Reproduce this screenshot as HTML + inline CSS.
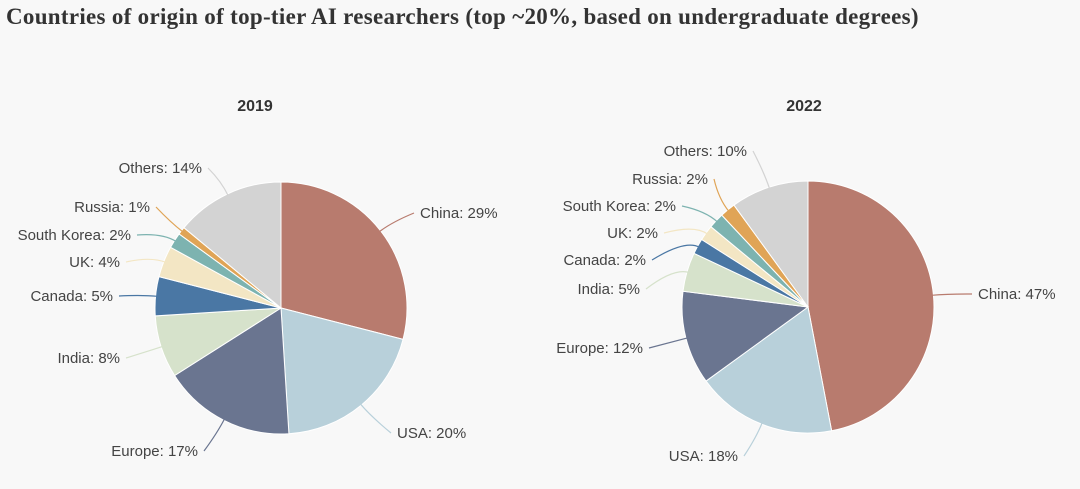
<!DOCTYPE html>
<html><head><meta charset="utf-8">
<style>
html,body{margin:0;padding:0;background:#f8f8f8;}
#wrap{position:relative;width:1080px;height:489px;overflow:hidden;}
#title{position:absolute;left:6px;top:4px;font-family:"Liberation Serif",serif;font-weight:bold;font-size:23px;letter-spacing:0.3px;color:#333;white-space:nowrap;}
svg text{font-family:"Liberation Sans",sans-serif;}
</style></head><body>
<div id="wrap">
<div id="title">Countries of origin of top-tier AI researchers (top ~20%, based on undergraduate degrees)</div>
<svg id="svg" width="1080" height="489" style="position:absolute;left:0;top:0"></svg>
</div>
<script>
const categories = ["China","USA","Europe","India","Canada","UK","South Korea","Russia","Others"];
const values2019 = [29,20,17,8,5,4,2,1,14];
const values2022 = [47,18,12,5,2,2,2,2,10];
const colors = ["#b87b6e","#b8d0da","#6a7590","#d6e2cb","#4a77a4","#f3e6c4","#7db3b0","#e0a456","#d3d3d3"];
// label layout: [x, y, anchor]
const layout2019 = [[420,218,"start"],[397,438,"start"],[198,456,"end"],[120,363,"end"],[113,301,"end"],[120,267,"end"],[131,240,"end"],[150,212,"end"],[202,173,"end"]];
const layout2022 = [[978,299,"start"],[738,461,"end"],[643,353,"end"],[640,294,"end"],[646,265,"end"],[658,238,"end"],[676,211,"end"],[708,184,"end"],[747,156,"end"]];
const svg=document.getElementById('svg');
const NS="http://www.w3.org/2000/svg";
function mk(t,a){const e=document.createElementNS(NS,t);for(const k in a)e.setAttribute(k,a[k]);svg.appendChild(e);return e;}
function pie(vals,cx,cy,r,year,lay,titleX){
  const t=mk('text',{x:titleX,y:111,'text-anchor':'middle','font-size':'16','font-weight':'bold',fill:'#333'});
  
  
  t.textContent=year;
  const total=vals.reduce((a,b)=>a+b,0);
  let a0=0;
  vals.forEach((v,i)=>{
    const a1=a0+v/total*2*Math.PI;
    const p=a=>[cx+r*Math.sin(a),cy-r*Math.cos(a)];
    const [x0,y0]=p(a0),[x1,y1]=p(a1);
    const path=mk('path',{d:`M${cx},${cy}L${x0},${y0}A${r},${r} 0 ${a1-a0>Math.PI?1:0} 1 ${x1},${y1}Z`,fill:colors[i],stroke:'#fff','stroke-width':'1'});
    
    
    const am=(a0+a1)/2;
    const sx=cx+(r-2)*Math.sin(am),sy=cy-(r-2)*Math.cos(am);
    const mx=cx+(r+14)*Math.sin(am),my=cy-(r+14)*Math.cos(am);
    const [lx,ly,anc]=lay[i];
    const ex=anc==="start"?lx-6:lx+6, ey=ly-5;
    const ln=mk('path',{d:`M${sx},${sy}Q${mx},${my} ${ex},${ey}`,fill:'none',stroke:colors[i],'stroke-width':'1.2'});
    
    
    const lb=mk('text',{x:lx,y:ly,'text-anchor':anc,'font-size':'15',fill:'#444'});
    
    
    lb.textContent=categories[i]+': '+v+'%';
    a0=a1;
  });
}
pie(values2019,281,308,126,"2019",layout2019,255);
pie(values2022,808,307,126,"2022",layout2022,804);
</script>
</body></html>
